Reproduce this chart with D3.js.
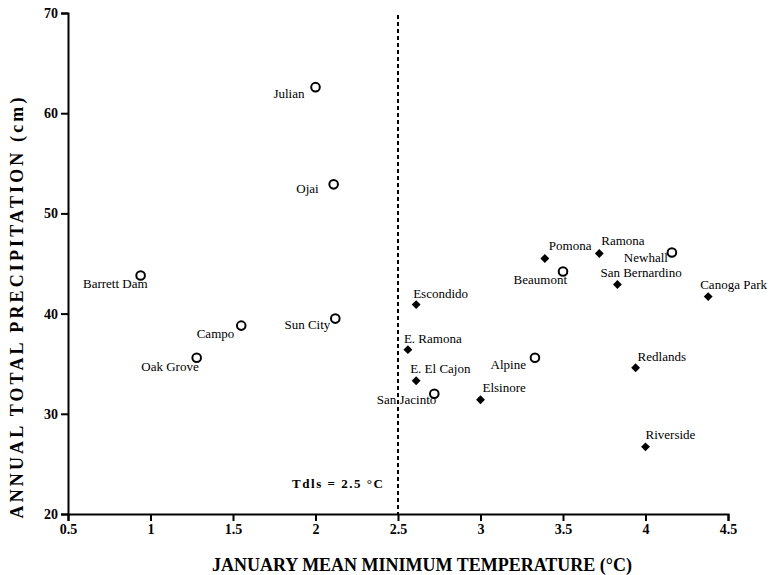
<!DOCTYPE html>
<html>
<head>
<meta charset="utf-8">
<script src="https://cdn.jsdelivr.net/npm/d3@7"></script>
<style>
  body { margin: 0; background: #fff; }
  svg text { font-family: "Liberation Serif", "Times New Roman", serif; fill: #000; }
</style>
</head>
<body>
<div id="chart"></div>
<script>
// stations and their values (temp in °C, precipitation in cm)
var stations = ["Julian", "Ojai", "Barrett Dam", "Campo", "Oak Grove", "Sun City",
  "Escondido", "E. Ramona", "E. El Cajon", "San Jacinto", "Elsinore", "Alpine",
  "Pomona", "Ramona", "Newhall", "Beaumont", "San Bernardino", "Canoga Park",
  "Redlands", "Riverside"];
var janMinTemp = [2.0, 2.11, 0.94, 1.55, 1.28, 2.12,
  2.61, 2.56, 2.61, 2.72, 3.0, 3.33,
  3.39, 3.72, 4.16, 3.5, 3.83, 4.38,
  3.94, 4.0];
var annualPrecip = [62.6, 52.9, 43.8, 38.8, 35.6, 39.5,
  40.9, 36.4, 33.3, 32.0, 31.4, 35.6,
  45.5, 46.0, 46.1, 44.2, 42.9, 41.7,
  34.6, 26.7];
// open circle = "o", filled diamond = "d"
var markerType = ["o", "o", "o", "o", "o", "o",
  "d", "d", "d", "o", "d", "o",
  "d", "d", "o", "o", "d", "d",
  "d", "d"];
var threshold = 2.5;
var xTicks = [0.5, 1, 1.5, 2, 2.5, 3, 3.5, 4, 4.5];
var yTicks = [20, 30, 40, 50, 60, 70];

// label placement relative to marker: [dx, dy, anchor]
var labelPos = {
  "Julian": [-11, 11, "end"], "Ojai": [-15, 9, "end"], "Barrett Dam": [7, 12, "end"],
  "Campo": [-7, 12, "end"], "Oak Grove": [2, 13, "end"], "Sun City": [-5, 10, "end"],
  "Escondido": [-3, -7, "start"], "E. Ramona": [-4, -7, "start"], "E. El Cajon": [-6, -8, "start"],
  "San Jacinto": [2, 10, "end"], "Elsinore": [2, -8, "start"], "Alpine": [-9, 11, "end"],
  "Pomona": [4, -8, "start"], "Ramona": [2, -8, "start"], "Newhall": [-4, 10, "end"],
  "Beaumont": [4, 12, "end"], "San Bernardino": [-17, -8, "start"], "Canoga Park": [-8, -8, "start"],
  "Redlands": [2, -7, "start"], "Riverside": [0, -8, "start"]
};

var data = stations.map(function (s, i) {
  return { name: s, t: janMinTemp[i], p: annualPrecip[i], type: markerType[i] };
});

var W = 770, H = 575;
var svg = d3.select("#chart").append("svg").attr("width", W).attr("height", H);

var x = d3.scaleLinear().domain([0.5, 4.5]).range([68, 728]);
var y = d3.scaleLinear().domain([20, 70]).range([514, 13]);

// axes
var gx = svg.append("g").attr("transform", "translate(0," + y(20) + ")")
  .call(d3.axisBottom(x).tickValues(xTicks).tickSize(7).tickPadding(3)
    .tickFormat(function (d) { return String(d); }));
var gy = svg.append("g").attr("transform", "translate(" + x(0.5) + ",0)")
  .call(d3.axisLeft(y).tickValues(yTicks).tickSize(7).tickPadding(3));

[gx, gy].forEach(function (g) {
  g.select(".domain").attr("stroke", "#000").attr("stroke-width", 2);
  g.selectAll(".tick line").attr("stroke", "#000").attr("stroke-width", 2);
  g.selectAll(".tick text")
    .style("font-family", "'Liberation Serif', serif")
    .style("font-weight", "bold").style("font-size", "14px").attr("fill", "#000");
});

// threshold line
svg.append("line")
  .attr("x1", x(threshold)).attr("x2", x(threshold))
  .attr("y1", y(69.8)).attr("y2", y(20))
  .attr("stroke", "#000").attr("stroke-width", 2).attr("stroke-dasharray", "4,3");

svg.append("text")
  .attr("x", 292).attr("y", 488)
  .attr("textLength", 91).attr("lengthAdjust", "spacing")
  .style("font-weight", "bold").style("font-size", "13px")
  .text("Tdls = 2.5 °C");

// markers
var pts = svg.append("g").selectAll("g.pt").data(data).enter().append("g")
  .attr("class", "pt")
  .attr("transform", function (d) { return "translate(" + x(d.t) + "," + y(d.p) + ")"; });

pts.filter(function (d) { return d.type === "o"; })
  .append("circle").attr("r", 4.3)
  .attr("fill", "#fff").attr("stroke", "#000").attr("stroke-width", 2);

pts.filter(function (d) { return d.type === "d"; })
  .append("path").attr("d", d3.symbol().type(d3.symbolDiamond2).size(50))
  .attr("fill", "#000");

// labels
svg.append("g").selectAll("text").data(data).enter().append("text")
  .attr("x", function (d) { return x(d.t) + labelPos[d.name][0]; })
  .attr("y", function (d) { return y(d.p) + labelPos[d.name][1]; })
  .attr("text-anchor", function (d) { return labelPos[d.name][2]; })
  .style("font-size", "13px")
  .text(function (d) { return d.name; });

// axis titles
svg.append("text")
  .attr("x", 422).attr("y", 571).attr("text-anchor", "middle")
  .attr("textLength", 420).attr("lengthAdjust", "spacing")
  .style("font-weight", "bold").style("font-size", "18px")
  .text("JANUARY MEAN MINIMUM TEMPERATURE (°C)");

svg.append("text")
  .attr("transform", "translate(23,308) rotate(-90)")
  .attr("text-anchor", "middle")
  .attr("textLength", 421).attr("lengthAdjust", "spacing")
  .style("font-weight", "bold").style("font-size", "18px")
  .text("ANNUAL TOTAL PRECIPITATION (cm)");
</script>
</body>
</html>
